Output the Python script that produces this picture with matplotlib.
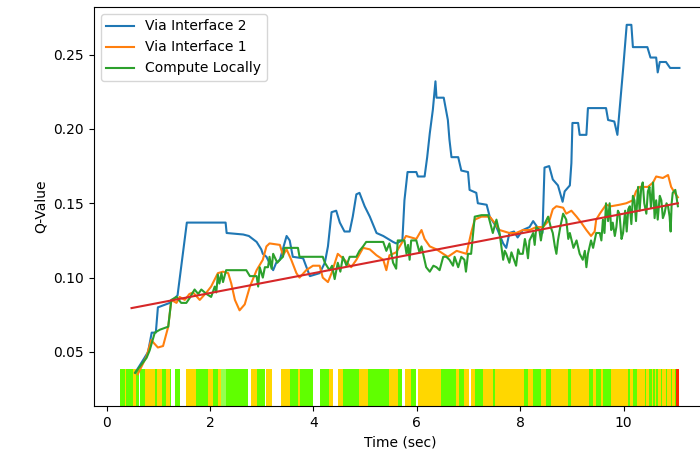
import numpy as np
import matplotlib
matplotlib.use("Agg")
import matplotlib.pyplot as plt

# Q-values over time (sec, value)
via_if2 = [(0.55, 0.036), (0.73, 0.046), (0.80, 0.050), (0.87, 0.063), (0.95, 0.063), (0.99, 0.080),
           (1.22, 0.083), (1.37, 0.088), (1.55, 0.137), (2.30, 0.137), (2.32, 0.130), (2.64, 0.129),
           (2.75, 0.128), (2.90, 0.124), (2.99, 0.119), (3.02, 0.116), (3.09, 0.114), (3.22, 0.105),
           (3.28, 0.110), (3.35, 0.112), (3.48, 0.128), (3.54, 0.125), (3.60, 0.114), (3.80, 0.113),
           (3.93, 0.101), (4.12, 0.103), (4.22, 0.110), (4.28, 0.121), (4.35, 0.144), (4.44, 0.145),
           (4.51, 0.137), (4.60, 0.131), (4.70, 0.131), (4.76, 0.141), (4.83, 0.156), (4.89, 0.157),
           (4.99, 0.148), (5.09, 0.141), (5.22, 0.130), (5.35, 0.128), (5.54, 0.124), (5.60, 0.123),
           (5.72, 0.125), (5.76, 0.152), (5.82, 0.171), (5.99, 0.171), (6.02, 0.168), (6.15, 0.168),
           (6.20, 0.181), (6.25, 0.197), (6.31, 0.213), (6.36, 0.232), (6.38, 0.221), (6.52, 0.221),
           (6.60, 0.206), (6.63, 0.193), (6.67, 0.181), (6.80, 0.181), (6.86, 0.172), (6.99, 0.171),
           (7.02, 0.159), (7.15, 0.157), (7.18, 0.150), (7.35, 0.149), (7.41, 0.141), (7.54, 0.134),
           (7.67, 0.123), (7.73, 0.120), (7.79, 0.130), (7.88, 0.131), (7.95, 0.127), (8.05, 0.132),
           (8.18, 0.134), (8.25, 0.138), (8.37, 0.132), (8.43, 0.130), (8.47, 0.174), (8.56, 0.175),
           (8.63, 0.166), (8.73, 0.162), (8.82, 0.151), (8.86, 0.158), (8.96, 0.162), (8.99, 0.177),
           (9.01, 0.204), (9.12, 0.204), (9.15, 0.196), (9.28, 0.196), (9.31, 0.214), (9.66, 0.214),
           (9.70, 0.206), (9.82, 0.205), (9.88, 0.196), (9.92, 0.212), (9.99, 0.240), (10.06, 0.270),
           (10.15, 0.270), (10.18, 0.255), (10.46, 0.255), (10.52, 0.248), (10.63, 0.248), (10.66, 0.238),
           (10.70, 0.245), (10.82, 0.245), (10.90, 0.241), (11.08, 0.241)]

via_if1 = [(0.60, 0.035), (0.77, 0.047), (0.86, 0.058), (0.99, 0.053), (1.09, 0.054), (1.19, 0.067),
           (1.25, 0.085), (1.35, 0.083), (1.41, 0.087), (1.51, 0.085), (1.60, 0.089), (1.67, 0.090),
           (1.80, 0.085), (1.93, 0.090), (2.02, 0.094), (2.15, 0.103), (2.25, 0.104), (2.35, 0.103),
           (2.41, 0.096), (2.48, 0.085), (2.57, 0.078), (2.67, 0.082), (2.77, 0.094), (2.90, 0.105),
           (3.02, 0.112), (3.09, 0.121), (3.15, 0.123), (3.35, 0.122), (3.41, 0.115), (3.48, 0.119),
           (3.57, 0.112), (3.67, 0.103), (3.73, 0.100), (3.86, 0.105), (3.99, 0.108), (4.12, 0.108),
           (4.18, 0.100), (4.28, 0.097), (4.35, 0.103), (4.47, 0.116), (4.60, 0.112), (4.73, 0.107),
           (4.83, 0.112), (4.96, 0.120), (5.09, 0.119), (5.22, 0.115), (5.35, 0.112), (5.41, 0.105),
           (5.47, 0.115), (5.60, 0.117), (5.79, 0.128), (5.99, 0.126), (6.09, 0.132), (6.15, 0.126),
           (6.25, 0.121), (6.38, 0.119), (6.51, 0.116), (6.60, 0.114), (6.77, 0.118), (6.96, 0.116),
           (7.05, 0.130), (7.12, 0.139), (7.25, 0.141), (7.41, 0.141), (7.50, 0.137), (7.60, 0.132),
           (7.79, 0.130), (7.92, 0.130), (8.05, 0.132), (8.18, 0.132), (8.31, 0.134), (8.44, 0.134),
           (8.57, 0.139), (8.63, 0.146), (8.70, 0.148), (8.83, 0.147), (8.89, 0.143), (8.99, 0.145),
           (9.09, 0.141), (9.18, 0.137), (9.28, 0.132), (9.37, 0.128), (9.44, 0.131), (9.47, 0.139),
           (9.54, 0.143), (9.66, 0.149), (9.76, 0.148), (9.92, 0.149), (10.05, 0.150), (10.18, 0.152),
           (10.24, 0.158), (10.31, 0.161), (10.47, 0.161), (10.57, 0.164), (10.63, 0.168), (10.76, 0.167),
           (10.86, 0.169), (10.92, 0.161), (10.99, 0.157), (11.05, 0.154)]

local = [(0.55, 0.036), (0.77, 0.046), (0.83, 0.051), (0.93, 0.063), (1.03, 0.065), (1.19, 0.067),
         (1.25, 0.085), (1.35, 0.087), (1.44, 0.083), (1.54, 0.083), (1.60, 0.086), (1.70, 0.092),
         (1.77, 0.089), (1.83, 0.092), (1.93, 0.089), (2.02, 0.087), (2.09, 0.094), (2.12, 0.090),
         (2.15, 0.102), (2.18, 0.096), (2.22, 0.103), (2.25, 0.097), (2.28, 0.101), (2.31, 0.105),
         (2.70, 0.105), (2.77, 0.101), (2.90, 0.101), (2.93, 0.094), (2.96, 0.107), (3.02, 0.100),
         (3.06, 0.107), (3.12, 0.107), (3.15, 0.114), (3.19, 0.106), (3.22, 0.116), (3.30, 0.110),
         (3.35, 0.112), (3.41, 0.114), (3.44, 0.120), (3.70, 0.120), (3.73, 0.114), (4.18, 0.114),
         (4.22, 0.110), (4.31, 0.105), (4.36, 0.108), (4.41, 0.099), (4.47, 0.110), (4.52, 0.104),
         (4.57, 0.114), (4.64, 0.108), (4.70, 0.114), (4.83, 0.114), (4.89, 0.118), (4.96, 0.121),
         (5.02, 0.124), (5.35, 0.124), (5.41, 0.118), (5.47, 0.123), (5.54, 0.110), (5.60, 0.106),
         (5.63, 0.125), (5.76, 0.125), (5.80, 0.116), (5.83, 0.122), (5.86, 0.112), (5.89, 0.125),
         (5.99, 0.125), (6.05, 0.117), (6.09, 0.121), (6.18, 0.107), (6.25, 0.104), (6.32, 0.108),
         (6.38, 0.107), (6.44, 0.105), (6.51, 0.114), (6.57, 0.114), (6.63, 0.112), (6.70, 0.108),
         (6.73, 0.114), (6.80, 0.107), (6.86, 0.114), (6.92, 0.112), (6.95, 0.104), (6.99, 0.116),
         (7.05, 0.116), (7.12, 0.141), (7.25, 0.142), (7.38, 0.142), (7.41, 0.138), (7.47, 0.130),
         (7.50, 0.134), (7.54, 0.139), (7.60, 0.130), (7.67, 0.112), (7.70, 0.118), (7.73, 0.116),
         (7.79, 0.110), (7.83, 0.117), (7.86, 0.114), (7.92, 0.108), (7.96, 0.119), (7.99, 0.116),
         (8.05, 0.116), (8.09, 0.126), (8.12, 0.121), (8.15, 0.113), (8.18, 0.125), (8.25, 0.130),
         (8.28, 0.122), (8.31, 0.134), (8.37, 0.132), (8.40, 0.125), (8.44, 0.134), (8.54, 0.141),
         (8.59, 0.134), (8.63, 0.130), (8.67, 0.121), (8.70, 0.116), (8.73, 0.125), (8.78, 0.135),
         (8.83, 0.143), (8.89, 0.139), (8.93, 0.126), (8.96, 0.130), (9.03, 0.120), (9.09, 0.125),
         (9.15, 0.116), (9.21, 0.112), (9.25, 0.118), (9.28, 0.107), (9.31, 0.116), (9.37, 0.125),
         (9.41, 0.120), (9.47, 0.130), (9.54, 0.130), (9.57, 0.125), (9.60, 0.139), (9.63, 0.130),
         (9.66, 0.150), (9.70, 0.138), (9.73, 0.150), (9.76, 0.132), (9.79, 0.137), (9.83, 0.128),
         (9.86, 0.134), (9.89, 0.145), (9.92, 0.143), (9.96, 0.126), (9.99, 0.130), (10.03, 0.145),
         (10.06, 0.131), (10.09, 0.146), (10.12, 0.148), (10.15, 0.136), (10.18, 0.155), (10.21, 0.152),
         (10.24, 0.138), (10.28, 0.161), (10.31, 0.145), (10.34, 0.160), (10.37, 0.164), (10.40, 0.150),
         (10.44, 0.143), (10.47, 0.158), (10.50, 0.161), (10.53, 0.147), (10.57, 0.164), (10.60, 0.140),
         (10.63, 0.152), (10.66, 0.139), (10.70, 0.155), (10.73, 0.152), (10.76, 0.140), (10.79, 0.143),
         (10.83, 0.150), (10.86, 0.148), (10.89, 0.141), (10.91, 0.131), (10.93, 0.150), (10.95, 0.157),
         (11.00, 0.159), (11.02, 0.155), (11.05, 0.148)]

# linear trend (red)
trend_t = [0.48, 11.05]
trend_v = [0.0795, 0.150]

# decision strip below the curves: (start, end, choice)
strip = [(0.26, 0.35, 'g'), (0.35, 0.37, 'y'), (0.37, 0.50, 'g'), (0.50, 0.56, 'y'), (0.56, 0.62, 'g'),
         (0.65, 0.74, 'g'), (0.74, 0.93, 'y'), (0.93, 0.97, 'g'), (0.97, 1.06, 'y'), (1.06, 1.15, 'g'),
         (1.15, 1.22, 'y'), (1.22, 1.25, 'g'), (1.33, 1.42, 'g'), (1.54, 1.73, 'y'), (1.73, 1.96, 'g'),
         (1.96, 2.06, 'y'), (2.06, 2.15, 'g'), (2.15, 2.22, 'y'), (2.22, 2.31, 'l'), (2.31, 2.73, 'g'),
         (2.80, 2.90, 'y'), (2.90, 3.06, 'g'), (3.09, 3.20, 'y'), (3.38, 3.54, 'y'), (3.54, 3.70, 'g'),
         (3.70, 3.73, 'y'), (3.73, 4.00, 'g'), (4.12, 4.31, 'g'), (4.31, 4.38, 'y'), (4.47, 4.57, 'y'),
         (4.57, 4.89, 'g'), (4.89, 5.05, 'y'), (5.05, 5.47, 'g'), (5.47, 5.63, 'y'), (5.63, 5.72, 'g'),
         (5.78, 5.89, 'y'), (5.89, 5.98, 'g'), (6.02, 6.47, 'y'), (6.47, 6.76, 'g'), (6.76, 6.82, 'y'),
         (6.82, 6.92, 'g'), (6.92, 7.01, 'y'), (7.05, 7.12, 'y'), (7.12, 7.28, 'g'), (7.28, 7.47, 'y'),
         (7.47, 7.52, 'g'), (7.52, 8.08, 'y'), (8.08, 8.15, 'g'), (8.15, 8.25, 'y'), (8.25, 8.41, 'g'),
         (8.41, 8.50, 'y'), (8.50, 8.60, 'g'), (8.60, 8.92, 'y'), (8.92, 8.99, 'g'), (8.99, 9.34, 'y'),
         (9.34, 9.41, 'g'), (9.41, 9.47, 'y'), (9.47, 9.57, 'g'), (9.57, 9.60, 'y'), (9.60, 9.76, 'g'),
         (9.76, 10.08, 'y'), (10.08, 10.12, 'g'), (10.12, 10.18, 'y'), (10.18, 10.25, 'g'),
         (10.25, 10.41, 'y'), (10.41, 10.44, 'g'), (10.44, 10.50, 'y'), (10.50, 10.54, 'g'),
         (10.54, 10.57, 'y'), (10.57, 10.60, 'g'), (10.60, 10.63, 'y'), (10.63, 10.66, 'g'),
         (10.66, 10.73, 'y'), (10.73, 10.75, 'g'), (10.75, 10.82, 'y'), (10.82, 10.84, 'g'),
         (10.84, 10.92, 'y'), (10.92, 10.94, 'g'), (10.94, 10.99, 'y'), (10.99, 11.02, 'g'),
         (11.02, 11.08, 'r')]
strip_colors = {'g': '#60ff00', 'y': '#ffd700', 'l': '#94ff50', 'r': '#ff2800'}

fig = plt.figure(figsize=(7, 4.65), dpi=100)
ax = fig.add_axes([0.134, 0.127, 0.875, 0.858])

for t0, t1, c in strip:
    ax.axvspan(t0, t1, ymin=0, ymax=0.093, color=strip_colors[c], lw=0)

for series, label in [(via_if2, 'Via Interface 2'), (via_if1, 'Via Interface 1'), (local, 'Compute Locally')]:
    t, v = np.array(series).T
    ax.plot(t, v, label=label)
ax.plot(trend_t, trend_v, color='#d62728')

ax.set_xlim(-0.25, 11.6)
ax.set_ylim(0.0137, 0.282)
ax.set_xlabel('Time (sec)')
ax.set_ylabel('Q-Value')
ax.legend(loc='upper left')

fig.savefig('out.png', dpi=100)
